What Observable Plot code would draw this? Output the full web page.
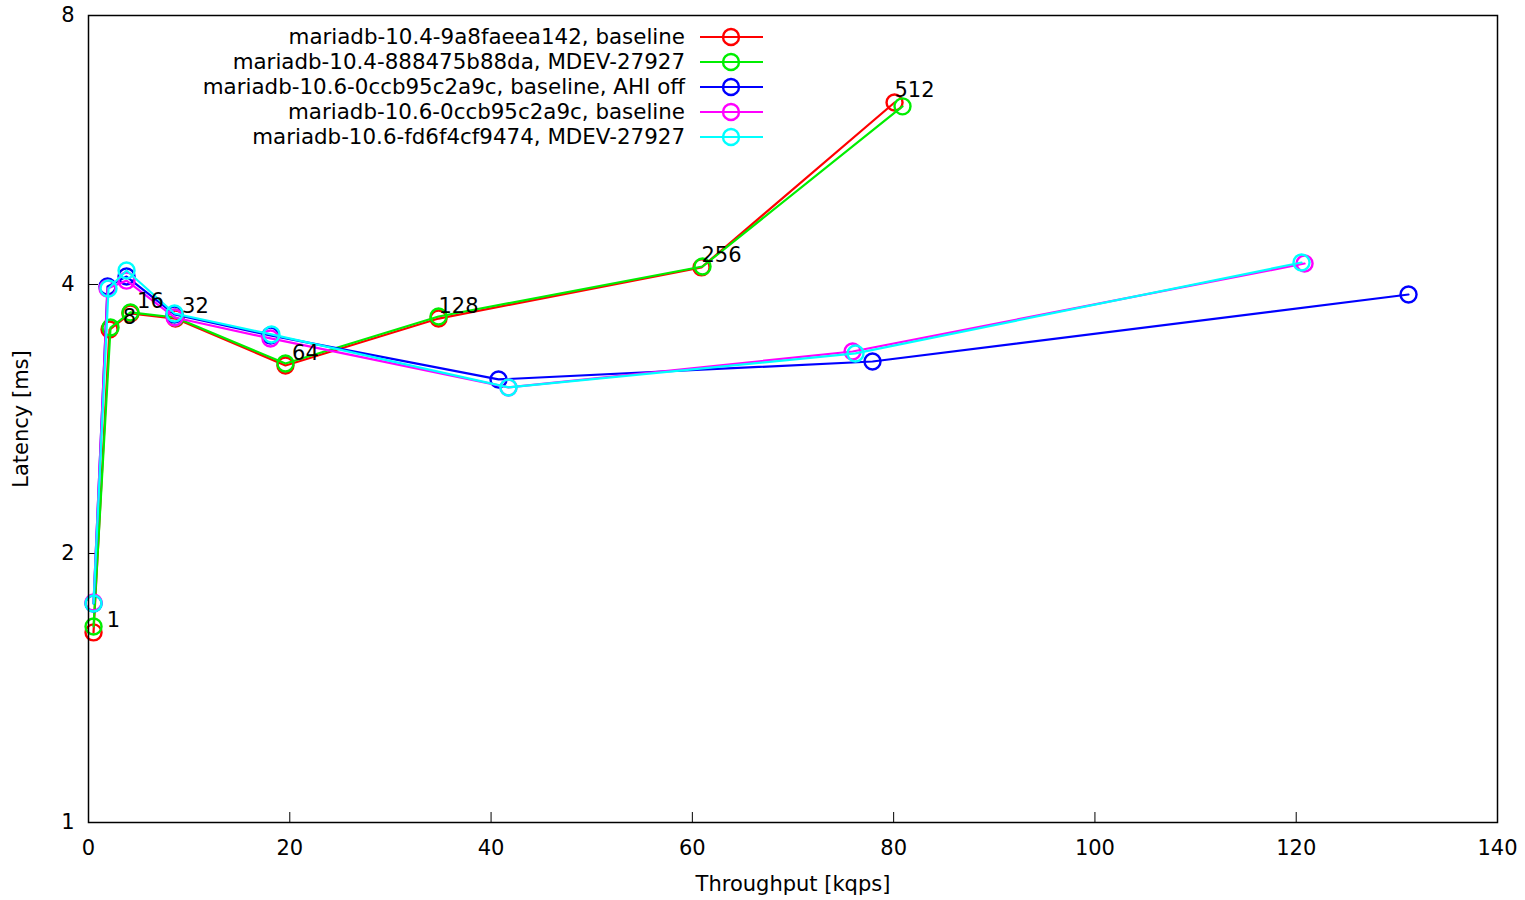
<!DOCTYPE html>
<html>
<head>
<meta charset="utf-8">
<script src="https://cdn.jsdelivr.net/npm/d3@7"></script>
<script src="https://cdn.jsdelivr.net/npm/@observablehq/plot@0.6"></script>
<style>
  html, body { margin: 0; padding: 0; background: #fff; }
  #chart svg { display: block; }
</style>
</head>
<body>
<div id="chart"></div>
<script>
// Thread counts (point labels)
const threads = [1, 8, 16, 32, 64, 128, 256, 512];

const seriesNames = [
  "mariadb-10.4-9a8faeea142, baseline",
  "mariadb-10.4-888475b88da, MDEV-27927",
  "mariadb-10.6-0ccb95c2a9c, baseline, AHI off",
  "mariadb-10.6-0ccb95c2a9c, baseline",
  "mariadb-10.6-fd6f4cf9474, MDEV-27927"
];
const seriesColors = ["#ff0000", "#00ee00", "#0000ff", "#ff00ff", "#00ffff"];

// Throughput [kqps] per series
const tput_104_base  = [0.50, 2.09, 4.17, 8.64, 19.57, 34.78, 60.91, 80.09];
const tput_104_mdev  = [0.50, 2.19, 4.17, 8.64, 19.57, 34.78, 61.01, 80.88];
const tput_106_ahi   = [0.50, 1.89, 3.78, 8.55, 18.08, 40.74, 77.90, 131.16];
const tput_106_base  = [0.50, 1.89, 3.78, 8.55, 18.08, 41.73, 75.92, 120.83];
const tput_106_mdev  = [0.50, 1.99, 3.78, 8.55, 18.18, 41.73, 76.21, 120.53];

// Latency [ms] per series
const lat_104_base = [1.632, 3.562, 3.712, 3.664, 3.247, 3.664, 4.180, 6.394];
const lat_104_mdev = [1.657, 3.580, 3.722, 3.674, 3.263, 3.683, 4.190, 6.330];
const lat_106_ahi  = [1.758, 3.980, 4.083, 3.703, 3.508, 3.132, 3.280, 3.898];
const lat_106_base = [1.763, 3.959, 4.040, 3.674, 3.481, 3.068, 3.366, 4.222];
const lat_106_mdev = [1.758, 3.959, 4.147, 3.712, 3.517, 3.068, 3.349, 4.233];

const xTicks = [0, 20, 40, 60, 80, 100, 120, 140];
const yTicks = [1, 2, 4, 8];

const tputs = [tput_104_base, tput_104_mdev, tput_106_ahi, tput_106_base, tput_106_mdev];
const lats = [lat_104_base, lat_104_mdev, lat_106_ahi, lat_106_base, lat_106_mdev];

const seriesData = seriesNames.map((name, i) =>
  threads.map((t, j) => ({series: name, threads: t, x: tputs[i][j], y: lats[i][j]}))
);

const W = 1525, H = 900;
const mL = 88, mR = 28, mT = 15, mB = 78;
const innerW = W - mL - mR, innerH = H - mT - mB;
const font = "DejaVu Sans, sans-serif";
const fs = 21;
const legendFs = 21.4;

const seriesMarks = seriesData.flatMap((d, i) => [
  Plot.line(d, {x: "x", y: "y", stroke: seriesColors[i], strokeWidth: 2.2}),
  Plot.dot(d, {x: "x", y: "y", stroke: seriesColors[i], fill: "none", r: 8, strokeWidth: 2.4})
]);

const chart = Plot.plot({
  width: W,
  height: H,
  marginLeft: mL, marginRight: mR, marginTop: mT, marginBottom: mB,
  style: {fontFamily: font, fontSize: fs + "px", color: "#000", background: "#fff"},
  x: {domain: [0, 140]},
  y: {type: "log", base: 2, domain: [1, 8]},
  marks: [
    Plot.tickX(xTicks, {x: d => d, stroke: "#000", strokeWidth: 1, insetTop: innerH - 10}),
    Plot.tickY(yTicks, {y: d => d, stroke: "#000", strokeWidth: 1, insetRight: innerW - 10}),
    Plot.axisX(xTicks, {tickSize: 0, tickPadding: 18, label: null, fontSize: fs}),
    Plot.axisY(yTicks, {tickSize: 0, tickPadding: 14, label: null, tickFormat: d => String(d), fontSize: fs}),
    Plot.text(["Throughput [kqps]"], {frameAnchor: "bottom", dy: 62, lineAnchor: "middle", fontSize: fs, fill: "#000"}),
    Plot.text(["Latency [ms]"], {frameAnchor: "left", dx: -67, rotate: -90, textAnchor: "middle", lineAnchor: "middle", fontSize: fs, fill: "#000"}),
    ...seriesMarks,
    Plot.text(seriesData[0], {x: "x", y: "y", text: d => String(d.threads), dx: 20, dy: -12, fontSize: fs, fill: "#000"}),
    Plot.frame({stroke: "#000", strokeWidth: 1.5})
  ]
});

// Legend (top-left inside the plot, gnuplot style: text right-aligned, then sample)
const svg = d3.select(chart);
const lg = svg.append("g").attr("font-family", font).attr("font-size", legendFs);
seriesNames.forEach((name, i) => {
  const cy = 37 + i * 25;
  lg.append("text").attr("x", 685).attr("y", cy).attr("dy", "0.35em")
    .attr("text-anchor", "end").attr("fill", "#000").text(name);
  lg.append("line").attr("x1", 700).attr("x2", 763).attr("y1", cy).attr("y2", cy)
    .attr("stroke", seriesColors[i]).attr("stroke-width", 2.2);
  lg.append("circle").attr("cx", 731).attr("cy", cy).attr("r", 8)
    .attr("fill", "none").attr("stroke", seriesColors[i]).attr("stroke-width", 2.4);
});

document.getElementById("chart").appendChild(chart);
</script>
</body>
</html>
